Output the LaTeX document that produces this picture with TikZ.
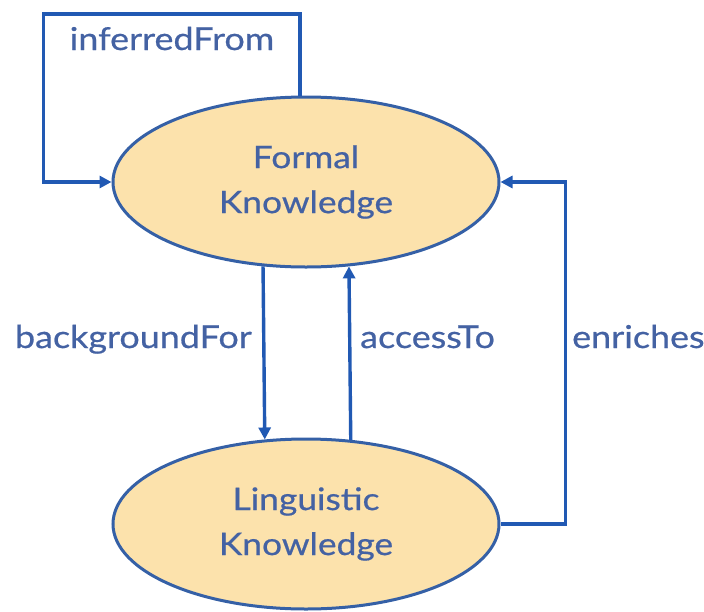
\documentclass[tikz,border=0pt]{standalone}
\usepackage{fontspec}
\setmainfont{Lato}[FakeStretch=1.14,FakeBold=0.6]
\usetikzlibrary{shapes.geometric,arrows.meta,calc}
\definecolor{linecol}{HTML}{2159B3}
\definecolor{edgecol}{HTML}{3560A6}
\definecolor{txtcol}{HTML}{4462A3}
\definecolor{fillcol}{HTML}{FCE2AC}
\tikzset{
  know/.style={ellipse, draw=edgecol, line width=3pt, fill=fillcol,
    minimum width=386pt, minimum height=170pt, inner sep=0pt,
    align=center, text=txtcol, font=\fontsize{31}{45}\selectfont},
  rel/.style={line width=3.4pt, draw=linecol, -{Triangle[length=12pt,width=12pt]}},
  lbl/.style={text=txtcol, font=\fontsize{31.5}{36}\selectfont, inner sep=0pt}
}
\begin{document}
\begin{tikzpicture}[x=1pt,y=-1pt]
\useasboundingbox (0,0) rectangle (704,611);
\node[know] (F) at (306,182) {Formal\\Knowledge};
\node[know] (L) at (306,524) {Linguistic\\Knowledge};
\coordinate (tl) at ($(F.west)+(-68,0)$);
\draw[rel] (F.94) |- ($(tl)+(0,-168)$) -- (tl) -- (F.west);
\draw[rel] (F.243.7) -- (L.116.1);
\draw[rel] (L.62.8) -- (F.297.4);
\draw[rel] (L.east) -| ($(F.east)+(65,0)$) -- (F.east);
\node[lbl, anchor=base] (l1) at (172,50) {inferredFrom};
\node[lbl, anchor=base east] (l2) at (252,348) {backgroundFor};
\node[lbl, anchor=base west] (l3) at (360,348) {accessTo};
\node[lbl, anchor=base west] (l4) at (572,348) {enriches};
\end{tikzpicture}
\end{document}
